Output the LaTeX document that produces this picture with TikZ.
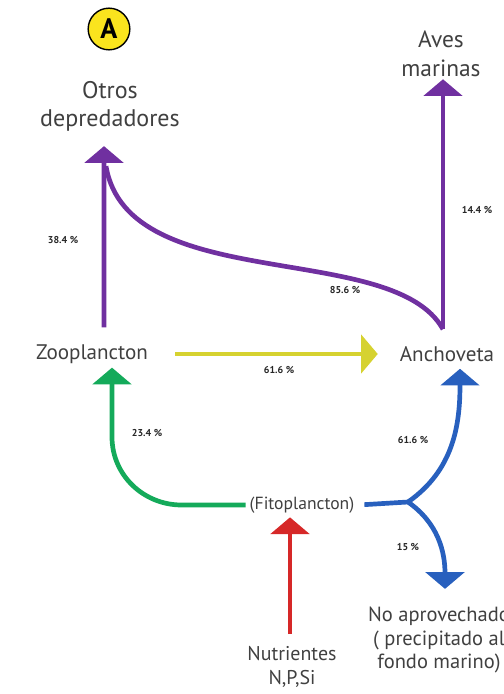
\documentclass[tikz,border=0pt]{standalone}
\usepackage{fontspec}
\setmainfont{PT Sans}
\usetikzlibrary{positioning, arrows.meta, calc}

\definecolor{flowpurple}{RGB}{112,48,160}
\definecolor{flowyellow}{RGB}{214,210,48}
\definecolor{flowgreen}{RGB}{20,170,90}
\definecolor{flowblue}{RGB}{40,96,190}
\definecolor{flowred}{RGB}{214,40,40}
\definecolor{badgeyellow}{RGB}{250,228,30}

\begin{document}
\begin{tikzpicture}[x=0.03cm, y=-0.03cm,
	lbl/.style={text=black!75, align=center},
	pct/.style={font=\fontsize{8.5}{9}\selectfont\bfseries, text=black!85},
	flow/.style={line width=4pt, -{Triangle[width=1.15cm, length=0.5cm]}},
	stem/.style={line width=4pt}]
	\useasboundingbox (0,0) rectangle (504,694);
	% compartimentos
	\node[circle, fill=badgeyellow, draw=black, line width=1.2pt, minimum size=1.25cm, inner sep=0pt,
		font=\fontsize{24}{26}\selectfont\bfseries] (badge) at (109,29) {A};
	\node[lbl, font=\fontsize{20.5}{24}\selectfont] (otros) at (110,106) {Otros\\depredadores};
	\node[lbl, font=\fontsize{20}{25}\selectfont] (aves) at (441,54) {Aves\\marinas};
	\node[lbl, font=\fontsize{18}{20}\selectfont] (zoo) at (92,354) {Zooplancton};
	\node[lbl, font=\fontsize{18}{20}\selectfont] (anch) at (447,354) {Anchoveta};
	\node[lbl, font=\fontsize{15}{18}\selectfont] (fito) at (302,505) {(Fitoplancton)};
	\node[lbl, font=\fontsize{17}{21}\selectfont] (nutri) at (292,667) {Nutrientes\\N,P,Si};
	\node[lbl, font=\fontsize{17.5}{20}\selectfont] (noaprov) at (439,640) {No aprovechado\\( precipitado al\\fondo marino)};
	% puntos de paso
	\coordinate (split) at (408,502);
	\coordinate (gbend) at (112,437);
	\coordinate (redfoot) at ([xshift=-0.06cm, yshift=0.24cm]nutri.north);
	% flujos
	\draw[flow, flowpurple] ([xshift=0.36cm, yshift=0.39cm]zoo.north) -- ([xshift=-0.18cm, yshift=-0.33cm]otros.south);
	\draw[stem, flowpurple] ([xshift=-0.12cm, yshift=0.39cm]anch.north)
		.. controls +(-50,-90) and +(22,130) .. ([xshift=-0.12cm, yshift=-0.93cm]otros.south);
	\draw[flow, flowpurple] ([xshift=-0.12cm, yshift=0.39cm]anch.north) -- ([xshift=0.06cm, yshift=0.06cm]aves.south);
	\draw[flow, flowyellow, shorten <=0.7cm, shorten >=0.54cm] (zoo.east) -- (anch.west);
	\draw[flow, flowgreen] (fito.west) -- ++(-64,0) to[out=180, in=-90] (gbend) -- (gbend |- zoo.south);
	\draw[stem, flowblue, shorten <=0.18cm] (fito.east) -- (split);
	\draw[flow, flowblue] (split) to[out=35, in=-90] ([xshift=0.39cm, yshift=-0.09cm]anch.south);
	\draw[flow, flowblue] (split) to[out=-35, in=90] ([xshift=0.18cm, yshift=0.42cm]noaprov.north);
	\draw[flow, flowred] (redfoot) -- (redfoot |- fito.south);
	% porcentajes
	\node[pct] (p1) at (63,240) {38.4 \%};
	\node[pct] (p2) at (345,290) {85.6 \%};
	\node[pct] (p3) at (477,210) {14.4 \%};
	\node[pct] (p4) at (279,370) {61.6 \%};
	\node[pct] (p5) at (147,433) {23.4 \%};
	\node[pct] (p6) at (413,440) {61.6 \%};
	\node[pct] (p7) at (408,547) {15 \%};
\end{tikzpicture}
\end{document}
